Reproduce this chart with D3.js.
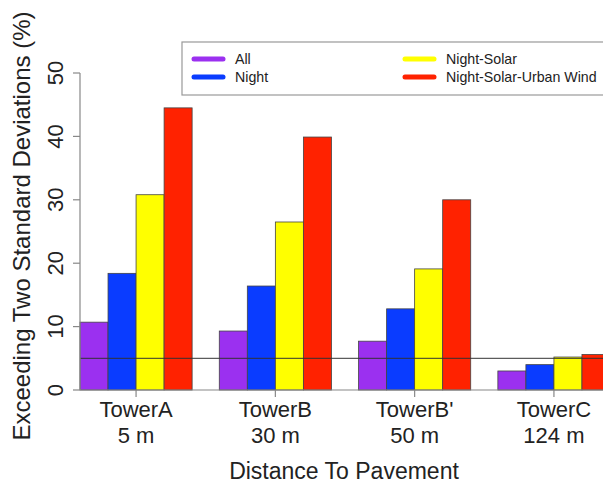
<!DOCTYPE html>
<html>
<head>
<meta charset="utf-8">
<script src="https://cdn.jsdelivr.net/npm/d3@7"></script>
<style>
  body { margin: 0; background: #fff; }
  svg { display: block; font-family: "Liberation Sans", Arial, sans-serif; }
</style>
</head>
<body>
<svg id="chart"></svg>
<script>
// Grouped bars: share of readings exceeding two standard deviations, per tower

const towers = ["TowerA", "TowerB", "TowerB'", "TowerC"];
const distances = ["5 m", "30 m", "50 m", "124 m"];
const seriesNames = ["All", "Night", "Night-Solar", "Night-Solar-Urban Wind"];
const seriesColors = ["#9b30f0", "#0a3cff", "#ffff00", "#ff2200"];

const allValues = [10.7, 9.3, 7.7, 3.0];
const nightValues = [18.4, 16.4, 12.8, 4.0];
const solarValues = [30.8, 26.5, 19.1, 5.2];
const windValues = [44.5, 39.9, 30.0, 5.6];

const yTicks = [0, 10, 20, 30, 40, 50];
const threshold = 5;

const width = 603;
const height = 484;
const margin = { top: 73, right: -7, bottom: 94, left: 80 };

const svg = d3.select("#chart")
    .attr("width", width)
    .attr("height", height);

const seriesValues = [allValues, nightValues, solarValues, windValues];

const x0 = d3.scaleBand()
    .domain(towers)
    .range([margin.left, width - margin.right])
    .paddingInner(0.195)
    .paddingOuter(0);

const x1 = d3.scaleBand()
    .domain(seriesNames)
    .range([0, x0.bandwidth()]);

const y = d3.scaleLinear()
    .domain([0, 50])
    .range([height - margin.bottom, margin.top]);

// bars
const groups = svg.selectAll(".group")
    .data(towers)
    .enter().append("g")
    .attr("class", "group")
    .attr("transform", d => `translate(${x0(d)},0)`);

groups.selectAll("rect")
    .data((d, i) => seriesNames.map((s, j) => ({ series: s, value: seriesValues[j][i], color: seriesColors[j] })))
    .enter().append("rect")
    .attr("x", d => x1(d.series))
    .attr("y", d => y(d.value))
    .attr("width", x1.bandwidth())
    .attr("height", d => y(0) - y(d.value))
    .attr("fill", d => d.color)
    .attr("stroke", "#444")
    .attr("stroke-width", 0.8);

// threshold line over the bars
svg.append("line")
    .attr("x1", margin.left)
    .attr("x2", width)
    .attr("y1", y(threshold))
    .attr("y2", y(threshold))
    .attr("stroke", "#333")
    .attr("stroke-width", 1);

// x axis baseline and ticks
svg.append("line")
    .attr("x1", margin.left)
    .attr("x2", width)
    .attr("y1", y(0))
    .attr("y2", y(0))
    .attr("stroke", "#888")
    .attr("stroke-width", 1.2);

const xt = svg.selectAll(".xtick")
    .data(towers)
    .enter().append("g")
    .attr("class", "xtick")
    .attr("transform", d => `translate(${x0(d) + x0.bandwidth() / 2},${y(0)})`);

xt.append("line")
    .attr("y2", 7)
    .attr("stroke", "#888")
    .attr("stroke-width", 1.2);

xt.append("text")
    .attr("y", 27)
    .attr("text-anchor", "middle")
    .attr("font-size", 22)
    .attr("fill", "#222")
    .text(d => d);

xt.append("text")
    .attr("y", 53)
    .attr("text-anchor", "middle")
    .attr("font-size", 22)
    .attr("fill", "#222")
    .text((d, i) => distances[i]);

// y axis
svg.append("line")
    .attr("x1", margin.left)
    .attr("x2", margin.left)
    .attr("y1", y(0))
    .attr("y2", y(50))
    .attr("stroke", "#888")
    .attr("stroke-width", 1.2);

const yt = svg.selectAll(".ytick")
    .data(yTicks)
    .enter().append("g")
    .attr("class", "ytick")
    .attr("transform", d => `translate(${margin.left},${y(d)})`);

yt.append("line")
    .attr("x2", -7)
    .attr("stroke", "#888")
    .attr("stroke-width", 1.2);

yt.append("text")
    .attr("transform", "translate(-17,0) rotate(-90)")
    .attr("text-anchor", "middle")
    .attr("font-size", 22)
    .attr("fill", "#222")
    .text(d => d);

// axis titles
svg.append("text")
    .attr("x", 344)
    .attr("y", 479)
    .attr("text-anchor", "middle")
    .attr("font-size", 23)
    .attr("fill", "#222")
    .text("Distance To Pavement");

svg.append("text")
    .attr("transform", "translate(30,226) rotate(-90)")
    .attr("text-anchor", "middle")
    .attr("font-size", 24)
    .attr("fill", "#222")
    .text("Exceeding Two Standard Deviations (%)");

// legend
const legend = svg.append("g");

legend.append("rect")
    .attr("x", 182)
    .attr("y", 42)
    .attr("width", 440)
    .attr("height", 53)
    .attr("fill", "#fff")
    .attr("stroke", "#999")
    .attr("stroke-width", 1.2);

const legendPos = [[192, 59], [192, 77], [403, 59], [403, 77]];

const item = legend.selectAll(".item")
    .data(seriesNames)
    .enter().append("g")
    .attr("class", "item")
    .attr("transform", (d, i) => `translate(${legendPos[i][0]},${legendPos[i][1]})`);

item.append("line")
    .attr("x1", 2)
    .attr("x2", 31)
    .attr("stroke", (d, i) => seriesColors[i])
    .attr("stroke-width", 5)
    .attr("stroke-linecap", "round");

item.append("text")
    .attr("x", 43)
    .attr("y", 5)
    .attr("font-size", 14.2)
    .attr("fill", "#222")
    .text(d => d);
</script>
</body>
</html>
